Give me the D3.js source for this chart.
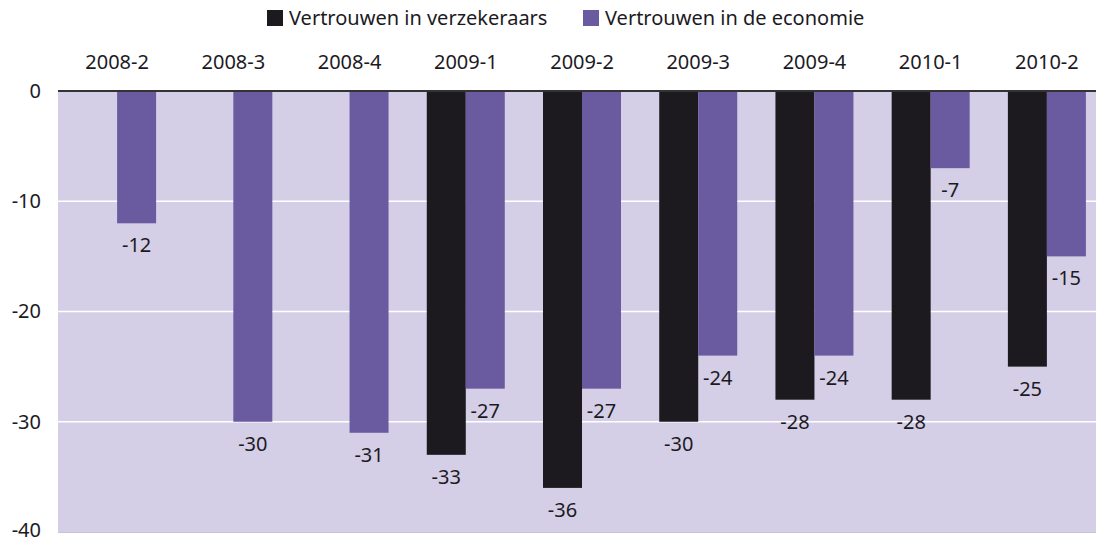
<!DOCTYPE html>
<html>
<head>
<meta charset="utf-8">
<script src="https://cdn.jsdelivr.net/npm/d3@7"></script>
<style>
  body { margin: 0; background: #fff; }
  svg { display: block; font-family: "Noto Sans", "Open Sans", sans-serif; }
</style>
</head>
<body>
<div id="chart"></div>
<script>
// data
const categories = ['2008-2', '2008-3', '2008-4', '2009-1', '2009-2', '2009-3', '2009-4', '2010-1', '2010-2'];
const seriesNames = ['Vertrouwen in verzekeraars', 'Vertrouwen in de economie'];
const verzekeraars = [null, null, null, -33, -36, -30, -28, -28, -25];
const economie = [-12, -30, -31, -27, -27, -24, -24, -7, -15];
const yTicks = [0, -10, -20, -30, -40];

const width = 1096;
const height = 543;
const plotLeft = 58;
const plotRight = 1105;
const plotTop = 91;
const plotBottom = 532;
const barWidth = 39;
const fontSize = 20;
const colors = ['#1c1a1f', '#6a5a9f'];

const svg = d3.select('#chart').append('svg')
  .attr('width', width)
  .attr('height', height);

const xScale = d3.scaleBand()
  .domain(categories)
  .range([plotLeft + 1, plotRight]);
const yScale = d3.scaleLinear()
  .domain([0, -40])
  .range([plotTop, plotBottom]);

// background
svg.append('rect')
  .attr('x', plotLeft)
  .attr('y', plotTop)
  .attr('width', plotRight - plotLeft)
  .attr('height', plotBottom - plotTop)
  .attr('fill', '#d4cfe6');

// grid lines
svg.selectAll('.grid')
  .data(yTicks.filter((d) => d !== 0 && d !== -40))
  .enter()
  .append('line')
  .attr('x1', plotLeft)
  .attr('x2', plotRight)
  .attr('y1', (d) => yScale(d))
  .attr('y2', (d) => yScale(d))
  .attr('stroke', '#fff')
  .attr('stroke-width', 1.5);

svg.append('line')
  .attr('x1', plotLeft)
  .attr('x2', plotRight)
  .attr('y1', yScale(-40) + 0.5)
  .attr('y2', yScale(-40) + 0.5)
  .attr('stroke', '#c8c6cc')
  .attr('stroke-width', 1);

// y axis labels
const yAxis = d3.axisLeft(yScale)
  .tickValues(yTicks)
  .tickSize(0)
  .tickPadding(17)
  .tickFormat((d) => String(d));
const yG = svg.append('g')
  .attr('transform', `translate(${plotLeft},0)`)
  .call(yAxis);
yG.select('.domain').remove();
yG.selectAll('text')
  .attr('font-size', fontSize)
  .attr('fill', '#1c1a1f')
  .attr('font-family', '"Noto Sans", sans-serif')
  .attr('dy', (d) => (d === -40 ? '0.2em' : '0.32em'));

// x axis labels (top)
const xAxis = d3.axisTop(xScale).tickSize(0).tickPadding(22);
const xG = svg.append('g')
  .attr('transform', `translate(0,${plotTop})`)
  .call(xAxis);
xG.select('.domain').remove();
xG.selectAll('text')
  .attr('font-size', fontSize)
  .attr('fill', '#1c1a1f')
  .attr('font-family', '"Noto Sans", sans-serif');

// bars
const series = [verzekeraars, economie];
series.forEach((values, s) => {
  const data = categories.map((c, i) => ({ name: c, value: values[i] }))
    .filter((d) => d.value !== null);
  const bx = (d) => xScale(d.name) + xScale.bandwidth() / 2 + (s === 0 ? -barWidth : 0);
  svg.selectAll(`.bar${s}`)
    .data(data)
    .enter()
    .append('rect')
    .attr('x', bx)
    .attr('y', yScale(0))
    .attr('width', barWidth)
    .attr('height', (d) => yScale(d.value) - yScale(0))
    .attr('fill', colors[s]);
  svg.selectAll(`.lbl${s}`)
    .data(data)
    .enter()
    .append('text')
    .attr('x', (d) => bx(d) + barWidth / 2)
    .attr('y', (d) => yScale(d.value) + 29)
    .attr('text-anchor', 'middle')
    .attr('font-size', fontSize)
    .attr('fill', '#1c1a1f')
    .text((d) => d.value);
});

// zero line
svg.append('line')
  .attr('x1', plotLeft)
  .attr('x2', plotRight)
  .attr('y1', yScale(0))
  .attr('y2', yScale(0))
  .attr('stroke', '#333')
  .attr('stroke-width', 2);

// legend
const legendX = [267, 583];
const legend = svg.selectAll('.legend')
  .data(seriesNames)
  .enter()
  .append('g')
  .attr('transform', (d, i) => `translate(${legendX[i]},10)`);
legend.append('rect')
  .attr('width', 16)
  .attr('height', 16)
  .attr('fill', (d, i) => colors[i]);
legend.append('text')
  .attr('x', 22)
  .attr('y', 15)
  .attr('font-size', fontSize)
  .attr('fill', '#1c1a1f')
  .text((d) => d);
</script>
</body>
</html>
